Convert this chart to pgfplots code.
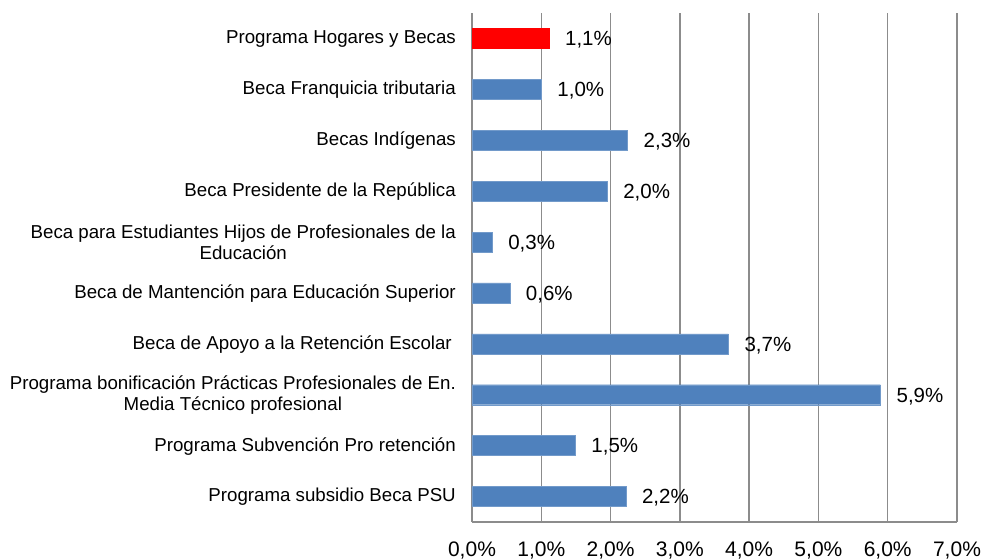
\documentclass[border=0pt]{standalone}
\usepackage{pgfplots}
\pgfplotsset{compat=1.18}
\usepackage{pgfplotstable}
\usepackage{fontspec}
\setmainfont{Liberation Sans}
\definecolor{barblue}{HTML}{4F81BD}
\definecolor{gridgray}{HTML}{8C8C8C}
\pgfplotstableread{
pos val lab
0 2.22 {2,2\%}
1 1.49 {1,5\%}
2 5.895 {5,9\%}
3 3.70 {3,7\%}
4 0.545 {0,6\%}
5 0.29 {0,3\%}
6 1.95 {2,0\%}
7 2.245 {2,3\%}
8 1.00 {1,0\%}
}\bluedata
\pgfplotstableread{
pos val lab
9 1.11 {1,1\%}
}\reddata
\begin{document}
\begin{tikzpicture}
\begin{axis}[
  set layers, axis on top=false,
  at={(0,0)}, anchor=south west,
  scale only axis, width=485pt, height=509pt,
  xbar, bar width=20pt, bar shift=0pt,
  xmin=0, xmax=7, ymin=-0.5, ymax=9.5,
  xtick={0,1,2,3,4,5,6,7},
  xticklabels={{0,0\%},{1,0\%},{2,0\%},{3,0\%},{4,0\%},{5,0\%},{6,0\%},{7,0\%}},
  ytick={0,1,2,3,4,5,6,7,8,9},
  yticklabels={
    {Programa subsidio Beca PSU},
    {Programa Subvención Pro retención},
    {Programa bonificación Prácticas Profesionales de En.\\Media Técnico profesional},
    {Beca de Apoyo a la Retención Escolar\hspace{4pt}},
    {Beca de Mantención para Educación Superior},
    {Beca para Estudiantes Hijos de Profesionales de la\\Educación},
    {Beca Presidente de la República},
    {Becas Indígenas},
    {Beca Franquicia tributaria},
    {Programa Hogares y Becas}},
  axis x line*=bottom, axis y line*=left,
  axis line style={gridgray, line width=1.4pt},
  xmajorgrids, grid style={gridgray, line width=1.4pt},
  major tick length=0pt,
  xticklabel style={font=\fontsize{21}{24}\selectfont, anchor=center, inner sep=0pt, yshift=-28.5pt},
  yticklabel style={font=\fontsize{18.7}{20.5}\selectfont, align=center, anchor=east, inner sep=0pt, xshift=-16pt, yshift=-0.5pt},
  nodes near coords,
  point meta=explicit symbolic,
  nodes near coords style={font=\fontsize{20.5}{24}\selectfont, anchor=west, inner sep=0pt, xshift=16pt, yshift=-1.5pt, text=black},
  clip=false,
]
\addplot[fill=barblue, draw=barblue!80!white] table[x=val, y=pos, meta=lab] {\bluedata};
\addplot[fill=red, draw=red] table[x=val, y=pos, meta=lab] {\reddata};
\end{axis}
\pgfresetboundingbox
\path[use as bounding box] (-472pt,-37pt) rectangle (511pt,522pt);
\end{tikzpicture}
\end{document}
